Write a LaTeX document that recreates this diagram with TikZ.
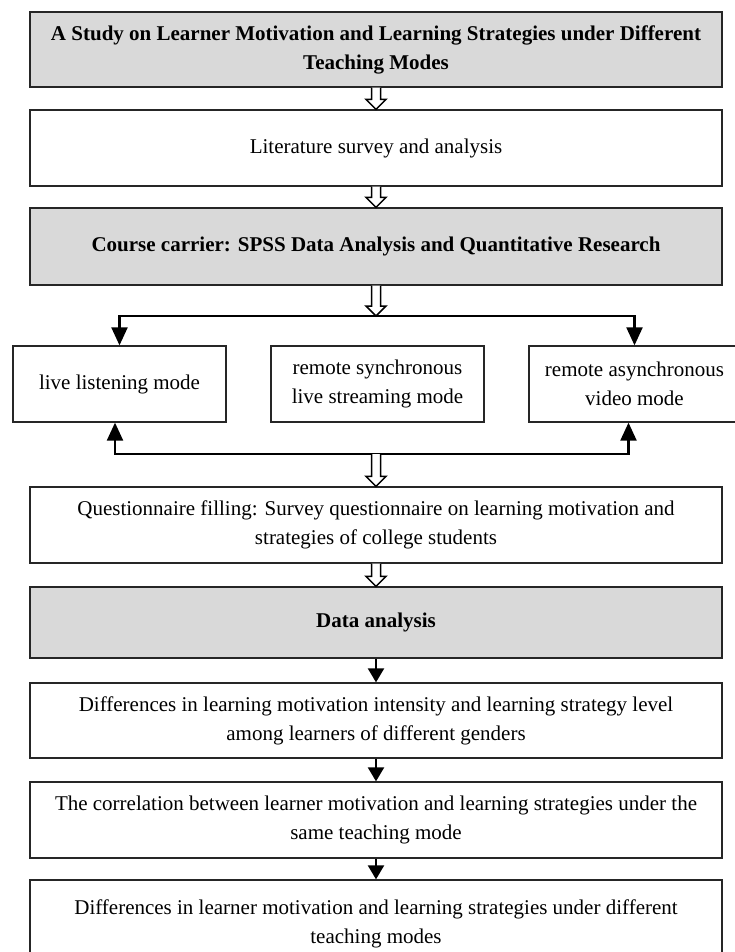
\documentclass[tikz,border=0pt]{standalone}
\usepackage{fontspec}
\setmainfont{Liberation Serif}
\usetikzlibrary{arrows.meta,calc}
\definecolor{boxgray}{HTML}{D9D9D9}
\definecolor{edge}{HTML}{262626}
\newcommand\hollowarr[2]{%
  \draw[hollow] ($(#1)+(-4.5,0)$) -- ($(#2)+(-4.5,-10)$) -- ($(#2)+(-10,-10)$) -- (#2)
    -- ($(#2)+(10,-10)$) -- ($(#2)+(4.5,-10)$) -- ($(#1)+(4.5,0)$);}
\begin{document}
\begin{tikzpicture}[x=1pt,y=-1pt,
  box/.style={draw=edge, line width=1.3pt, fill=white, inner sep=0pt, align=center,
    font=\fontsize{21}{29}\selectfont},
  wide/.style={box, minimum width=692pt},
  graybox/.style={wide, fill=boxgray, font=\fontsize{21}{29}\selectfont\bfseries},
  mode/.style={box, minimum width=213pt, minimum height=76pt},
  conn/.style={line width=2.2pt, draw=black},
  arr/.style={conn, -{Triangle[width=16pt,length=18pt]}},
  sarr/.style={conn, -{Triangle[width=16pt,length=14pt]}},
  hollow/.style={line width=1.5pt, draw=black, fill=white, line join=miter}]
\useasboundingbox (0,0) rectangle (735,952);
\clip (0,0) rectangle (735,952);
\fill[white] (0,0) rectangle (735,952);

\node[graybox, minimum height=75pt] (b1) at (376,49.5)
  {A Study on Learner Motivation and Learning Strategies under Different\\Teaching Modes};
\node[wide, minimum height=76pt] (b2) at (376,148) {Literature survey and analysis};
\node[graybox, minimum height=77pt] (b3) at (376,246.5)
  {Course carrier: SPSS Data Analysis and Quantitative Research};

\node[mode] (mL) at (119.5,384) {live listening mode};
\node[mode] (mM) at (377.5,384) {remote synchronous\\live streaming mode};
\node[mode, minimum width=211pt] (mR) at (634.5,384) {remote asynchronous\\video mode};

\node[wide, minimum height=76pt] (q) at (376,525)
  {Questionnaire filling: Survey questionnaire on learning motivation and\\strategies of college students};
\node[graybox, minimum height=71pt] (d) at (376,622.5) {Data analysis};
\node[wide, minimum height=75pt] (f) at (376,720.5)
  {Differences in learning motivation intensity and learning strategy level\\among learners of different genders};
\node[wide, minimum height=76pt] (c) at (376,820)
  {The correlation between learner motivation and learning strategies under the\\same teaching mode};
\node[wide, minimum height=88pt] (l) at (376,924)
  {Differences in learner motivation and learning strategies under different\\teaching modes};

\coordinate (tc) at (376,316);
\coordinate (bc) at (376,454);

\hollowarr{b1.south}{b2.north}
\hollowarr{b2.south}{b3.north}
\hollowarr{b3.south}{tc}
\draw[arr] (tc) -| (mL.north);
\draw[arr] (tc) -| (mR.north);
\draw[arr] (bc) -| ($(mL.south)+(-4.5,0)$);
\draw[arr] (bc) -| ($(mR.south)+(-6,0)$);
\hollowarr{bc}{q.north}
\hollowarr{q.south}{d.north}
\draw[sarr] (d.south) -- (f.north);
\draw[sarr] (f.south) -- (c.north);
\draw[sarr] (c.south) -- (l.north);
\end{tikzpicture}
\end{document}
